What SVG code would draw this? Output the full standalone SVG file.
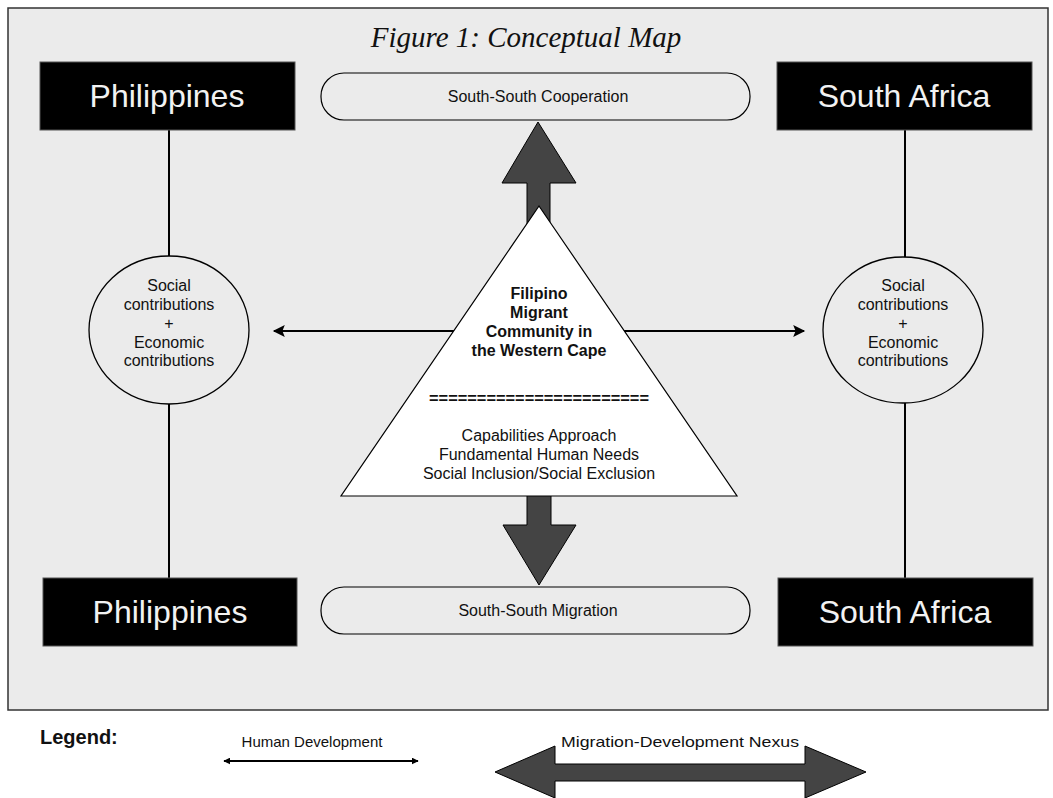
<svg xmlns="http://www.w3.org/2000/svg" width="1053" height="798" viewBox="0 0 1053 798">
<style>
.frame{fill:#ebebeb;stroke:#333;stroke-width:1.5}
.box{fill:#000;stroke:#555;stroke-width:1}
.boxt{font-family:"Liberation Sans",Arial,sans-serif;font-size:32px;fill:#f2f2f2;text-anchor:middle}
.pill{fill:#ebebeb;stroke:#000;stroke-width:1.2}
.pillt{font-family:"Liberation Sans",Arial,sans-serif;font-size:16px;fill:#111;text-anchor:middle}
.circ{fill:#ebebeb;stroke:#000;stroke-width:1.3}
.ct{font-family:"Liberation Sans",Arial,sans-serif;font-size:16px;fill:#111;text-anchor:middle}
.tri{fill:#fff;stroke:#000;stroke-width:1.2}
.tb{font-family:"Liberation Sans",Arial,sans-serif;font-size:16px;font-weight:bold;fill:#111;text-anchor:middle}
.tr{font-family:"Liberation Sans",Arial,sans-serif;font-size:16px;fill:#111;text-anchor:middle}
.line{stroke:#000;stroke-width:2;fill:none}
.big{fill:#444;stroke:#000;stroke-width:1}
.leg{font-family:"Liberation Sans",Arial,sans-serif;font-size:15px;fill:#111;text-anchor:middle}
</style>
<defs>
<marker id="ah" viewBox="0 0 10 10" refX="9" refY="5" markerWidth="7" markerHeight="7" orient="auto-start-reverse" markerUnits="userSpaceOnUse">
<path d="M0,0 L10,5 L0,10 z" fill="#000"/>
</marker>
<marker id="ahs" viewBox="0 0 10 10" refX="9" refY="5" markerWidth="14" markerHeight="12" orient="auto-start-reverse" markerUnits="userSpaceOnUse">
<path d="M0,0 L10,5 L0,10 L2,5 z" fill="#000"/>
</marker>
</defs>
<rect class="frame" x="8" y="8" width="1040" height="702"/>
<text x="526" y="47" font-family="Liberation Serif,'Times New Roman',serif" font-style="italic" font-size="29" text-anchor="middle" fill="#111">Figure 1: Conceptual Map</text>
<g id="connectors">
<line class="line" x1="169" y1="130" x2="169" y2="256"/>
<line class="line" x1="169" y1="404" x2="169" y2="578"/>
<line class="line" x1="905" y1="130" x2="905" y2="257"/>
<line class="line" x1="905" y1="403" x2="905" y2="578"/>
<line class="line" x1="456" y1="331" x2="274" y2="331" marker-end="url(#ahs)"/>
<line class="line" x1="622" y1="331" x2="804" y2="331" marker-end="url(#ahs)"/>
<path class="big" d="M527,300 L527,183 L502,183 L538,122 L576,183 L550,183 L550,300 z"/>
<path class="big" d="M527,480 L527,525 L503,525 L539,585 L576,525 L551,525 L551,480 z"/>
</g>
<g id="philippines-top">
<rect class="box" x="40" y="62" width="255" height="68"/>
<text class="boxt" x="167" y="107">Philippines</text>
</g>
<g id="southafrica-top">
<rect class="box" x="777" y="62" width="255" height="68"/>
<text class="boxt" x="904" y="107">South Africa</text>
</g>
<g id="philippines-bottom">
<rect class="box" x="43" y="578" width="254" height="68"/>
<text class="boxt" x="170" y="623">Philippines</text>
</g>
<g id="southafrica-bottom">
<rect class="box" x="778" y="578" width="255" height="68"/>
<text class="boxt" x="905" y="623">South Africa</text>
</g>
<g id="cooperation">
<rect class="pill" x="321" y="73" width="429" height="47" rx="23" ry="23"/>
<text class="pillt" x="538" y="102">South-South Cooperation</text>
</g>
<g id="migration">
<rect class="pill" x="321" y="587" width="429" height="47" rx="23" ry="23"/>
<text class="pillt" x="538" y="616">South-South Migration</text>
</g>
<g id="contrib-left">
<ellipse class="circ" cx="169" cy="330" rx="80" ry="74"/>
<text class="ct" x="169" y="291">Social</text>
<text class="ct" x="169" y="310">contributions</text>
<text class="ct" x="169" y="329">+</text>
<text class="ct" x="169" y="348">Economic</text>
<text class="ct" x="169" y="366">contributions</text>
</g>
<g id="contrib-right">
<ellipse class="circ" cx="903" cy="330" rx="80" ry="73"/>
<text class="ct" x="903" y="291">Social</text>
<text class="ct" x="903" y="310">contributions</text>
<text class="ct" x="903" y="329">+</text>
<text class="ct" x="903" y="348">Economic</text>
<text class="ct" x="903" y="366">contributions</text>
</g>
<g id="community">
<polygon class="tri" points="539,206 737,496 341,496"/>
<text class="tb" x="539" y="299">Filipino</text>
<text class="tb" x="539" y="318">Migrant</text>
<text class="tb" x="539" y="337">Community in</text>
<text class="tb" x="539" y="356">the Western Cape</text>
<text class="tb" x="539" y="404" textLength="220" lengthAdjust="spacingAndGlyphs">=======================</text>
<text class="tr" x="539" y="441">Capabilities Approach</text>
<text class="tr" x="539" y="460">Fundamental Human Needs</text>
<text class="tr" x="539" y="479">Social Inclusion/Social Exclusion</text>
</g>
<g id="legend">
<text x="40" y="744" font-family="Liberation Sans,Arial,sans-serif" font-size="20" font-weight="bold" fill="#111">Legend:</text>
<text class="leg" x="312" y="747">Human Development</text>
<line x1="224" y1="761" x2="418" y2="761" stroke="#000" stroke-width="2" marker-start="url(#ah)" marker-end="url(#ah)"/>
<text class="leg" x="680" y="747" textLength="238" lengthAdjust="spacingAndGlyphs">Migration-Development Nexus</text>
<path class="big" d="M495,772 L555,746 L555,764 L805,764 L805,746 L866,772 L805,798 L805,781 L555,781 L555,798 z"/>
</g>
</svg>
